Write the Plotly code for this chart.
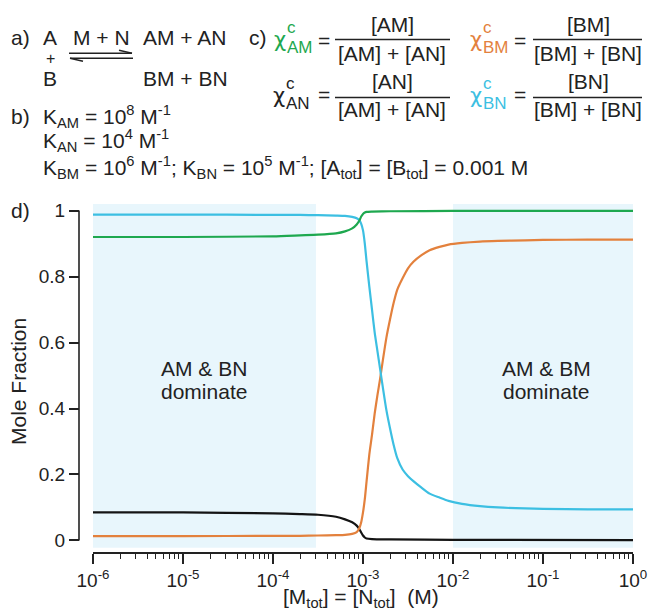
import plotly.graph_objects as go

# ---------------- data ----------------
log_conc_b = [-6, -5, -4, -3.7, -3.5, -3.3, -3.2, -3.12, -3.07, -3.04, -3.02, -3.0, -2.98,
              -2.96, -2.93, -2.9, -2.87, -2.84, -2.81, -2.78, -2.74, -2.7, -2.66, -2.62,
              -2.56, -2.5, -2.44, -2.35, -2.26, -2.15, -2.05, -1.9, -1.7, -1.5, -1.2, -1.0,
              -0.5, 0]
chi_BM = [0.013, 0.013, 0.014, 0.014, 0.015, 0.016, 0.017, 0.020, 0.025, 0.038, 0.055, 0.085,
          0.125, 0.18, 0.26, 0.32, 0.385, 0.44, 0.49, 0.545, 0.615, 0.67, 0.72, 0.76, 0.795,
          0.825, 0.845, 0.865, 0.88, 0.89, 0.897, 0.902, 0.906, 0.908, 0.910, 0.911, 0.912, 0.912]
chi_BN = [0.988, 0.988, 0.987, 0.987, 0.986, 0.985, 0.984, 0.981, 0.977, 0.970, 0.960, 0.94,
          0.90, 0.845, 0.77, 0.70, 0.63, 0.575, 0.52, 0.465, 0.395, 0.34, 0.29, 0.25, 0.215,
          0.195, 0.18, 0.16, 0.142, 0.13, 0.12, 0.111, 0.104, 0.100, 0.097, 0.096, 0.094, 0.094]

log_conc_a = [-6, -5, -4, -3.7, -3.5, -3.3, -3.2, -3.12, -3.07, -3.04, -3.02, -3.0, -2.98,
              -2.96, -2.9, -2.7, -2.0, 0]
chi_AM = [0.920, 0.920, 0.922, 0.925, 0.927, 0.931, 0.937, 0.946, 0.958, 0.970, 0.982, 0.990,
          0.994, 0.996, 0.997, 0.998, 0.999, 0.999]
chi_AN = [0.085, 0.085, 0.082, 0.080, 0.078, 0.072, 0.064, 0.055, 0.045, 0.034, 0.024, 0.015,
          0.009, 0.006, 0.004, 0.003, 0.002, 0.001]

shade_left = [1e-6, 3e-4]
shade_right = [1e-2, 1.0]
shade_y = [-0.022, 1.02]

x_tick_vals = [1e-6, 1e-5, 1e-4, 1e-3, 1e-2, 1e-1, 1]
x_tick_text = ["10<sup>-6</sup>", "10<sup>-5</sup>", "10<sup>-4</sup>", "10<sup>-3</sup>",
               "10<sup>-2</sup>", "10<sup>-1</sup>", "10<sup>0</sup>"]
y_tick_vals = [0, 0.2, 0.4, 0.6, 0.8, 1]
y_tick_text = ["0", "0.2", "0.4", "0.6", "0.8", "1"]

conc_b = [10 ** v for v in log_conc_b]
conc_a = [10 ** v for v in log_conc_a]

# ---------------- styling ----------------
GREEN = "#1ea84f"
ORANGE = "#e3813d"
CYAN = "#3cbfe2"
BLACK = "#141414"
SHADE = "#e8f6fc"
AXIS = "#222222"
FONT = "Liberation Sans, Arial, Helvetica, sans-serif"
CHI_FONT = "DejaVu Sans, Liberation Sans, sans-serif"

W, H = 651, 614
ML, MR, MT, MB = 70, 18, 204, 62
PW, PH = W - ML - MR, H - MT - MB


def px(x):
    return (x - ML) / PW


def py(y):
    return (H - MB - y) / PH


fig = go.Figure()

for name, xs, ys, col in [("χAN", conc_a, chi_AN, BLACK),
                          ("χBM", conc_b, chi_BM, ORANGE),
                          ("χBN", conc_b, chi_BN, CYAN),
                          ("χAM", conc_a, chi_AM, GREEN)]:
    fig.add_trace(go.Scatter(x=xs, y=ys, mode="lines", name=name,
                             line=dict(color=col, width=2.2, shape="spline", smoothing=0.6),
                             showlegend=False, hoverinfo="skip"))

shapes = []
for sx in (shade_left, shade_right):
    shapes.append(dict(type="rect", xref="x", yref="y", x0=sx[0], x1=sx[1],
                       y0=shade_y[0], y1=shade_y[1], fillcolor=SHADE, line_width=0,
                       layer="below"))
# y axis line (spans 0..1 only)
shapes.append(dict(type="line", xref="paper", yref="y", x0=px(79), x1=px(79), y0=0, y1=1,
                   line=dict(color=AXIS, width=1.6)))

# equilibrium harpoons in a)
shapes += [
    dict(type="line", xref="paper", yref="paper", x0=px(69), x1=px(132), y0=py(53.3), y1=py(53.3),
         line=dict(color="#222", width=1.4)),
    dict(type="line", xref="paper", yref="paper", x0=px(119), x1=px(132), y0=py(50.3), y1=py(53.3),
         line=dict(color="#222", width=1.4)),
    dict(type="line", xref="paper", yref="paper", x0=px(70), x1=px(133), y0=py(58.3), y1=py(58.3),
         line=dict(color="#222", width=1.4)),
    dict(type="line", xref="paper", yref="paper", x0=px(70), x1=px(83), y0=py(58.3), y1=py(61.3),
         line=dict(color="#222", width=1.4)),
]
# fraction bars in c)
for (x0, x1, y) in [(335, 450, 39.5), (533, 642, 39.5), (335, 450, 97.5), (533, 642, 97.5)]:
    shapes.append(dict(type="line", xref="paper", yref="paper", x0=px(x0), x1=px(x1),
                       y0=py(y), y1=py(y), line=dict(color="#222", width=1.5)))

annotations = []


def txt(x, y, s, size=21, color="#222", xanchor="left", yanchor="middle", angle=0, family=FONT):
    annotations.append(dict(x=px(x), y=py(y), xref="paper", yref="paper", text=s,
                            showarrow=False, xanchor=xanchor, yanchor=yanchor, borderpad=0,
                            font=dict(family=family, size=size, color=color), textangle=angle))


# a)
txt(10, 37, "a)")
txt(42, 37, "A")
txt(72, 37, "M + N")
txt(142, 37, "AM + AN")
txt(50, 58, "+", size=16, xanchor="center")
txt(42, 79, "B")
txt(142, 79, "BM + BN")
# b)
txt(10, 116, "b)")
txt(42, 116, "K<sub>AM</sub> = 10<sup>8</sup> M<sup>-1</sup>")
txt(42, 141, "K<sub>AN</sub> = 10<sup>4</sup> M<sup>-1</sup>")
txt(42, 167, "K<sub>BM</sub> = 10<sup>6</sup> M<sup>-1</sup>; K<sub>BN</sub> = 10<sup>5</sup> M<sup>-1</sup>; "
             "[A<sub>tot</sub>] = [B<sub>tot</sub>] = 0.001 M")
# c)
txt(248, 37, "c)")


def chi(x, y, sub, color):
    txt(x, y + 3, "χ", size=21, color=color, family=CHI_FONT)
    txt(x + 13, y - 9, "c", size=17, color=color)
    txt(x + 13, y + 10, sub, size=17, color=color)


chi(273, 37, "AM", GREEN)
chi(469, 37, "BM", ORANGE)
chi(272, 93, "AN", "#222")
chi(469, 93, "BN", CYAN)
for xe, ye in [(317, 40), (513, 40), (317, 95), (513, 95)]:
    txt(xe, ye, "=")
txt(392, 24, "[AM]", xanchor="center")
txt(392, 53, "[AM] + [AN]", xanchor="center")
txt(588, 24, "[BM]", xanchor="center")
txt(588, 53, "[BM] + [BN]", xanchor="center")
txt(392, 81, "[AN]", xanchor="center")
txt(392, 110, "[AM] + [AN]", xanchor="center")
txt(588, 81, "[BN]", xanchor="center")
txt(588, 110, "[BM] + [BN]", xanchor="center")
# d)
txt(10, 211, "d)")
txt(18, 382, "Mole Fraction", xanchor="center", angle=-90)
txt(204, 368, "AM &amp; BN", xanchor="center")
txt(204, 391, "dominate", xanchor="center")
txt(546, 368, "AM &amp; BM", xanchor="center")
txt(546, 391, "dominate", xanchor="center")
txt(361, 598, "[M<sub>tot</sub>] = [N<sub>tot</sub>]  (M)", xanchor="center")

minor_vals = [k * 10 ** e for e in range(-6, 0) for k in range(2, 10)]

fig.update_layout(
    width=W, height=H,
    margin=dict(l=ML, r=MR, t=MT, b=MB, autoexpand=False),
    paper_bgcolor="white", plot_bgcolor="white",
    font=dict(family=FONT, size=19, color="#222"),
    shapes=shapes, annotations=annotations,
    xaxis=dict(type="log", range=[-6, 0], domain=[px(93), 1], automargin=False,
               showgrid=False, zeroline=False, showline=True, linecolor=AXIS, linewidth=1.6,
               ticks="outside", ticklen=10, tickwidth=1.5, tickcolor=AXIS,
               tickmode="array", tickvals=x_tick_vals, ticktext=x_tick_text,
               tickfont=dict(family=FONT, size=19, color="#222"),
               minor=dict(ticks="outside", ticklen=5, tickwidth=1.3, tickcolor=AXIS,
                          tickmode="array", tickvals=minor_vals, showgrid=False)),
    yaxis=dict(range=[-0.035, 1.02], anchor="free", position=px(79), automargin=False,
               showgrid=False, zeroline=False, showline=False,
               ticks="outside", ticklen=10, tickwidth=1.5, tickcolor=AXIS,
               tickmode="array", tickvals=y_tick_vals, ticktext=y_tick_text,
               tickfont=dict(family=FONT, size=19, color="#222")),
)

fig.write_html("out.html", config={"displayModeBar": False},
               post_script="document.body.style.margin='0';document.body.style.overflow='hidden';")
